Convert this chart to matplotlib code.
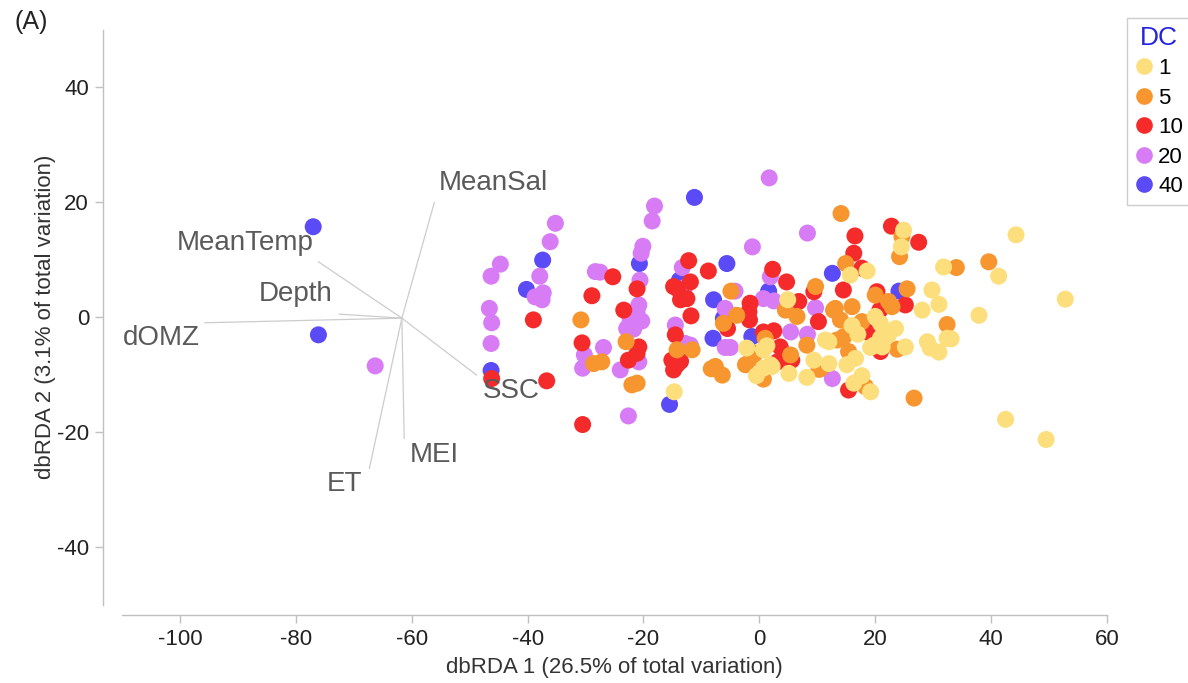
import matplotlib.pyplot as plt
from matplotlib.lines import Line2D

plt.rcParams['font.family'] = ['Liberation Sans', 'DejaVu Sans']
plt.rcParams['axes.unicode_minus'] = False

# dbRDA scores per distance class (DC)
dc_labels = ['1', '5', '10', '20', '40']
dc_colors = ['#FCDF7C', '#F7952F', '#F52B2B', '#D77CF5', '#5B4BF6']

dc40 = [(-77.0, 15.7), (-76.1, -3.1), (-46.3, -9.3), (-40.2, 4.8), (-37.4, 9.9),
        (-20.7, 9.3), (-11.2, 20.8), (-15.5, -15.2), (-7.9, 3.0), (-8.0, -3.7),
        (-5.6, 9.3), (12.6, 7.6), (1.6, 4.5), (-6.2, -0.2), (-1.3, -3.4),
        (24.1, 4.5), (-13.8, 6.4)]

dc20 = [(-66.3, -8.5), (-44.7, 9.2), (-46.3, 7.1), (-46.6, 1.5), (-46.2, -1.0),
        (-46.3, -4.6), (-37.9, 7.1), (-38.7, 3.5), (-37.3, 4.2), (-37.5, 3.0),
        (-35.2, 16.3), (-36.1, 13.1), (-28.3, 7.9), (-30.2, -6.6), (-30.5, -8.9),
        (-18.1, 19.3), (-18.5, 16.7), (-20.1, 12.3), (-20.4, 11.1), (-27.5, 7.8),
        (-20.6, 6.4), (-20.8, 2.1), (-21.1, 0.9), (-22.3, -0.5), (-20.3, -0.7),
        (-22.9, -2.0), (-21.7, -2.1), (-20.8, -7.8), (-24.0, -9.2), (-26.9, -5.3),
        (-22.6, -17.2), (-13.3, 8.6), (-12.9, 5.1), (-14.5, -1.4), (-12.8, -4.6),
        (-11.9, -4.9), (1.7, 24.2), (8.3, 14.6), (-1.2, 12.2), (1.9, 7.0),
        (2.5, 2.8), (0.7, 3.2), (-5.9, 1.5), (9.7, 1.6), (5.4, -2.6),
        (8.3, -3.0), (-5.0, -5.3), (-5.9, -5.3), (12.6, -10.7), (-4.2, 4.5)]

dc10 = [(-46.2, -10.7), (-36.7, -11.1), (-39.0, -0.5), (-28.9, 3.7), (-30.6, -4.5),
        (-30.5, -18.7), (-25.3, 7.0), (-21.1, 4.9), (-23.4, 1.2), (-20.8, -5.2),
        (-21.1, -6.3), (-22.6, -7.5), (-12.2, 9.8), (-11.9, 6.1), (-14.1, 4.9),
        (-13.6, 3.0), (-12.5, 3.2), (-11.8, 0.2), (-14.5, -3.1), (-15.1, -7.5),
        (-13.6, -7.7), (-14.8, -9.2), (-14.2, -8.3), (-8.8, 8.0), (2.3, 8.3),
        (4.7, 6.1), (-1.6, 2.4), (-1.8, 0.9), (-1.7, -0.5), (-5.5, -2.0),
        (6.8, 2.7), (10.2, -0.8), (0.7, -2.6), (2.5, -2.4), (3.6, -5.2),
        (3.1, -7.8), (5.6, -7.5), (22.8, 15.8), (27.5, 13.0), (16.5, 14.1),
        (16.3, 11.1), (17.7, 8.5), (14.5, 4.7), (20.3, 4.4), (25.2, 2.1),
        (20.8, 1.2), (18.6, -2.6), (20.9, -6.0), (15.4, -12.7), (-14.8, 5.3),
        (9.4, 4.4)]

dc5 = [(-30.8, -0.5), (-28.6, -8.1), (-23.0, -4.3), (-27.2, -7.8), (-21.1, -11.5),
       (-22.0, -11.8), (-14.2, -5.7), (-11.6, -5.7), (-8.3, -9.0), (14.1, 18.0),
       (-4.9, 4.5), (-3.9, 0.3), (-6.2, -1.1), (4.5, 1.2), (6.5, 0.1),
       (9.7, 5.3), (1.0, -3.7), (-1.3, -7.2), (-2.4, -8.3), (0.7, -10.8),
       (5.4, -6.6), (10.5, -9.0), (8.2, -4.9), (12.8, 1.2), (-7.6, -8.6),
       (-6.4, -10.1), (24.6, 14.0), (24.2, 10.5), (14.9, 9.3), (20.0, 3.8),
       (25.5, 4.9), (22.3, 2.7), (22.9, 1.8), (13.1, 1.5), (16.0, 1.8),
       (14.0, -0.5), (17.7, -0.8), (14.6, -3.4), (13.4, -4.0), (23.8, -5.6),
       (15.4, -6.0), (18.3, -12.1), (26.7, -14.1), (32.4, -1.3), (34.0, 8.6),
       (39.6, 9.6), (10.3, -9.1), (-0.7, -6.3)]

dc1 = [(-14.7, -13.0), (4.9, 3.0), (-2.2, -5.4), (0.7, -5.7), (1.9, -8.3),
       (0.7, -8.9), (-0.5, -10.2), (5.1, -9.8), (8.2, -10.5), (9.4, -7.5),
       (12.0, -8.1), (12.0, -4.3), (24.9, 15.1), (24.5, 12.2), (15.7, 7.3),
       (18.6, 8.0), (20.0, 0.1), (20.9, -1.1), (23.5, -2.0), (22.3, -3.1),
       (20.9, -3.7), (19.8, -4.9), (21.2, -5.2), (19.2, -5.3), (25.2, -5.2),
       (16.6, -7.2), (15.1, -8.3), (16.3, -11.5), (17.7, -10.2), (19.2, -13.0),
       (29.8, 4.7), (31.0, 2.2), (28.1, 1.2), (29.0, -4.3), (29.5, -5.4),
       (31.0, -6.1), (32.4, -3.7), (31.8, 8.7), (44.3, 14.3), (41.3, 7.1),
       (52.8, 3.1), (37.9, 0.3), (33.1, -3.8), (42.5, -17.8), (49.5, -21.3),
       (1.3, -5.0), (2.2, -8.6), (11.4, -4.0), (17.0, -3.0), (16.0, -1.5)]

# predictor vectors (origin + end points) and label anchors
vec_origin = (-61.7, -0.2)
vec_names = ['MeanSal', 'MeanTemp', 'Depth', 'dOMZ', 'SSC', 'MEI', 'ET']
vec_end_x = [-56.1, -76.1, -72.5, -95.7, -48.8, -61.3, -67.3]
vec_end_y = [19.9, 9.6, 0.5, -1.0, -10.1, -21.1, -26.3]
lab_x = [-55.3, -77.0, -73.6, -96.5, -47.8, -60.3, -68.6]
lab_y = [23.3, 12.9, 4.0, -3.7, -12.9, -24.0, -29.0]
lab_ha = ['left', 'right', 'right', 'right', 'left', 'left', 'right']

fig = plt.figure(figsize=(11.88, 6.83), dpi=100)
ax = fig.add_axes([0.1027, 0.1149, 0.8291, 0.8419])

groups = {'40': dc40, '20': dc20, '10': dc10, '5': dc5, '1': dc1}
col = dict(zip(dc_labels, dc_colors))
for key in ['40', '20', '10', '5', '1']:
    pts = groups[key]
    ax.scatter([p[0] for p in pts], [p[1] for p in pts], s=150, c=col[key],
               edgecolors='none', zorder=2)

for i, name in enumerate(vec_names):
    ax.plot([vec_origin[0], vec_end_x[i]], [vec_origin[1], vec_end_y[i]],
            color='#cccccc', lw=0.9, zorder=1)
    ax.text(lab_x[i], lab_y[i], name, ha=lab_ha[i], va='center',
            fontsize=20, color='#5a5a5a', zorder=3)

ax.set_xlim(-110, 60)
ax.set_ylim(-50, 50)
ax.set_xticks(range(-100, 61, 20))
ax.set_yticks(range(-40, 41, 20))

for s in ['top', 'right']:
    ax.spines[s].set_visible(False)
ax.spines['left'].set_position(('outward', 13.7))
ax.spines['bottom'].set_position(('outward', 7.6))
for s in ['left', 'bottom']:
    ax.spines[s].set_color('#c0c0c0')
    ax.spines[s].set_linewidth(1)
ax.tick_params(direction='out', length=6, width=1, color='#c0c0c0',
               labelsize=16, labelcolor='#222222', pad=4)

ax.set_xlabel('dbRDA 1 (26.5% of total variation)', fontsize=16,
              color='#333333', labelpad=5)
ax.set_ylabel('dbRDA 2 (3.1% of total variation)', fontsize=16,
              color='#333333', labelpad=1)

fig.text(15 / 1188, 1 - 22 / 683, '(A)', fontsize=18, color='#222222',
         va='center', ha='left')

handles = [Line2D([], [], ls='none', marker='o', markersize=12,
                  markerfacecolor=c, markeredgecolor='none') for c in dc_colors]
leg = fig.legend(handles, dc_labels, title='DC', loc='upper left',
                 bbox_to_anchor=(1127 / 1188, 1 - 18 / 683), borderaxespad=0,
                 fontsize=16, title_fontsize=19, frameon=True, fancybox=False,
                 edgecolor='#c0c0c0', labelspacing=0.38, handletextpad=0.25,
                 handlelength=0.8, borderpad=0.35, alignment='center')
leg.get_title().set_color('#2323E0')
leg.get_frame().set_linewidth(1)

fig.savefig('out.png', dpi=100)
